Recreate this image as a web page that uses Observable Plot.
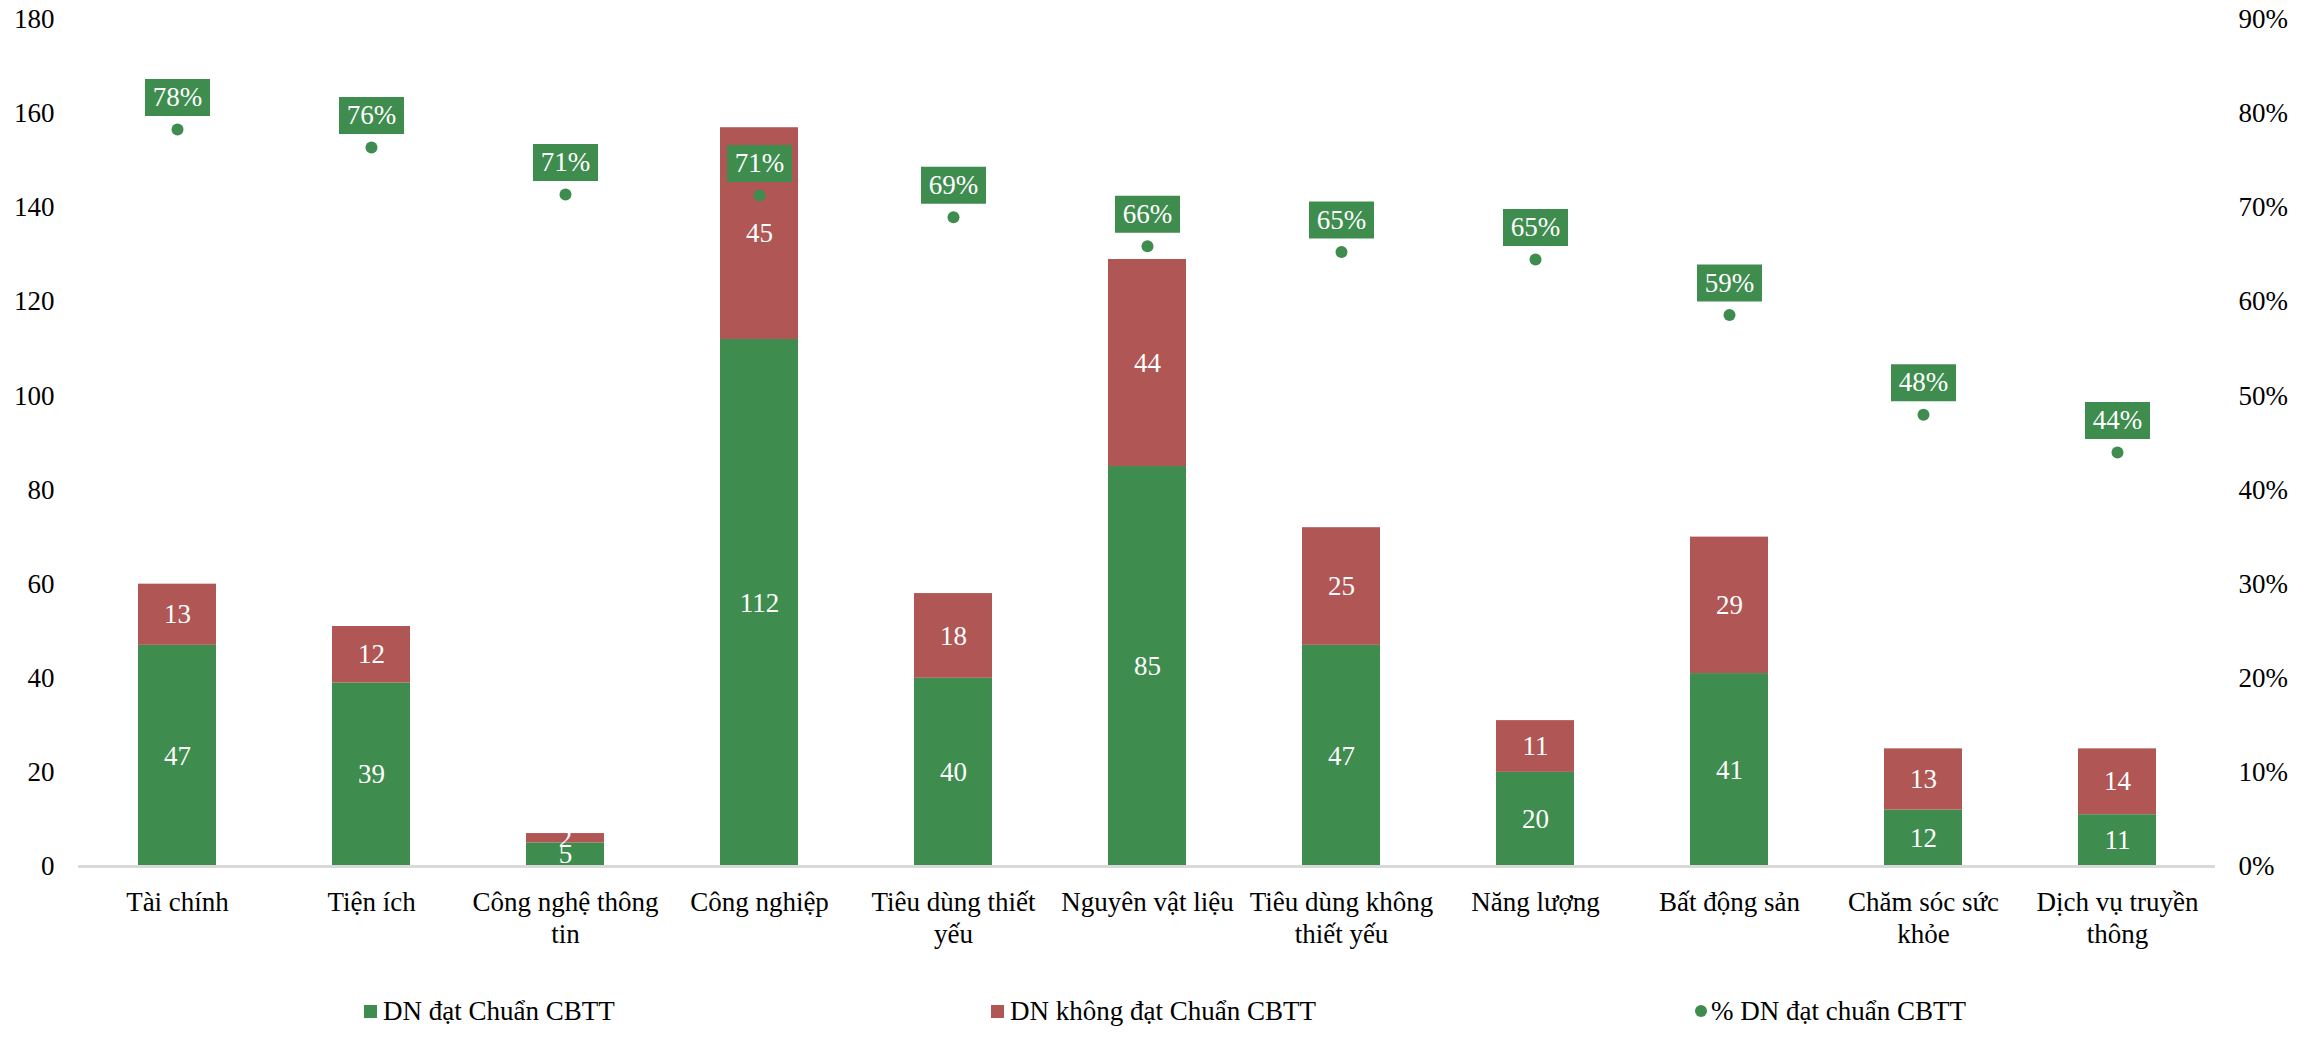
<!DOCTYPE html>
<html><head><meta charset="utf-8">
<script src="https://cdn.jsdelivr.net/npm/d3@7"></script>
<script src="https://cdn.jsdelivr.net/npm/@observablehq/plot@0.6"></script>
<style>
html,body{margin:0;padding:0;background:#fff;}
#wrap{position:relative;width:2306px;height:1040px;overflow:hidden;font-family:"Liberation Serif","Times New Roman",serif;}
#legend{position:absolute;left:0;top:994px;width:2306px;height:34px;font-size:27px;color:#000;}
.item{position:absolute;top:0;display:flex;align-items:center;height:34px;white-space:nowrap;}
.sw{width:13px;height:13px;margin-right:6px;flex:none;}
.cd{width:12px;height:12px;border-radius:50%;margin-right:4px;flex:none;}
svg text{font-family:"Liberation Serif","Times New Roman",serif;}
</style></head><body>
<div id="wrap"><div id="chart"></div><div id="legend"></div></div>
<script>
const categories = ["Tài chính","Tiện ích","Công nghệ thông tin","Công nghiệp","Tiêu dùng thiết yếu","Nguyên vật liệu","Tiêu dùng không thiết yếu","Năng lượng","Bất động sản","Chăm sóc sức khỏe","Dịch vụ truyền thông"];
const categoryLabels = ["Tài chính","Tiện ích","Công nghệ thông\ntin","Công nghiệp","Tiêu dùng thiết\nyếu","Nguyên vật liệu","Tiêu dùng không\nthiết yếu","Năng lượng","Bất động sản","Chăm sóc sức\nkhỏe","Dịch vụ truyền\nthông"];
const seriesNames = ["DN đạt Chuẩn CBTT","DN không đạt Chuẩn CBTT","% DN đạt chuẩn CBTT"];
const metValues = [47,39,5,112,40,85,47,20,41,12,11];
const notMetValues = [13,12,2,45,18,44,25,11,29,13,14];
const pctMet = [78.3,76.4,71.4,71.3,69.0,65.9,65.3,64.5,58.6,48.0,44.0];
const leftTicks = [0,20,40,60,80,100,120,140,160,180];
const rightTickLabels = ["0%","10%","20%","30%","40%","50%","60%","70%","80%","90%"];

const GREEN = "#3f8c4f", RED = "#b05654";
const FONT = "Liberation Serif, Times New Roman, serif";

const rows = [];
categories.forEach((c,i)=>{
  rows.push({cat:c, series:seriesNames[0], value:metValues[i]});
  rows.push({cat:c, series:seriesNames[1], value:notMetValues[i]});
});
const pctRows = categories.map((c,i)=>({cat:c, pct:pctMet[i], label: Math.round(pctMet[i])+"%"}));
const labelMap = new Map(categories.map((c,i)=>[c,categoryLabels[i]]));
const rightMap = new Map(leftTicks.map((t,i)=>[t,rightTickLabels[i]]));
const boxSymbol = {draw(ctx){ ctx.rect(-32.5,-18.5,65,37); }};
const pctY = d => d.pct * 2; // 90% on the right axis aligns with 180 on the left

const chart = Plot.plot({
  width: 2306, height: 975,
  marginTop: 19, marginBottom: 109, marginLeft: 78, marginRight: 91,
  style: {fontFamily: FONT, fontSize: "27px", color: "#000", background: "#fff", overflow: "visible"},
  x: {domain: categories, paddingInner: 0.6, paddingOuter: 0.3, axis: null, label: null},
  y: {domain: [0,180], axis: null, label: null},
  color: {domain: seriesNames.slice(0,2), range: [GREEN, RED]},
  marks: [
    Plot.barY(rows, {x:"cat", y:"value", fill:"series"}),
    Plot.ruleY([0], {stroke:"#d9d9d9", strokeWidth:3}),
    Plot.text(rows, Plot.stackY({x:"cat", y:"value", text: d=>String(d.value), fill:"white", fontSize:27, fontFamily:FONT})),
    Plot.axisY(leftTicks, {anchor:"left", label:null, tickSize:0, tickPadding:24, fontSize:27, fontFamily:FONT, fill:"#000"}),
    Plot.axisY(leftTicks, {anchor:"right", label:null, tickSize:0, tickPadding:23, fontSize:27, fontFamily:FONT, fill:"#000", tickFormat: d=>rightMap.get(d)}),
    Plot.axisX({label:null, tickSize:0, tickPadding:22, fontSize:27, fontFamily:FONT, fill:"#000", lineHeight:1.17, tickFormat: d=>labelMap.get(d)}),
    Plot.dot(pctRows, {x:"cat", y:pctY, r:6, fill:GREEN}),
    Plot.dot(pctRows, {x:"cat", y:pctY, symbol: boxSymbol, r:10, fill:GREEN, dy:-32}),
    Plot.text(pctRows, {x:"cat", y:pctY, text:"label", fill:"white", fontSize:27, fontFamily:FONT, dy:-32})
  ]
});
document.getElementById("chart").appendChild(chart);

const legend = document.getElementById("legend");
const legendItems = [
  {name: seriesNames[0], color: GREEN, kind:"sw", left:364},
  {name: seriesNames[1], color: RED, kind:"sw", left:991},
  {name: seriesNames[2], color: GREEN, kind:"cd", left:1695}
];
legendItems.forEach(it=>{
  const d = document.createElement("div");
  d.className = "item";
  d.style.left = it.left + "px";
  const s = document.createElement("span");
  s.className = it.kind;
  s.style.background = it.color;
  const t = document.createElement("span");
  t.textContent = it.name;
  d.appendChild(s); d.appendChild(t);
  legend.appendChild(d);
});
</script>
</body></html>
